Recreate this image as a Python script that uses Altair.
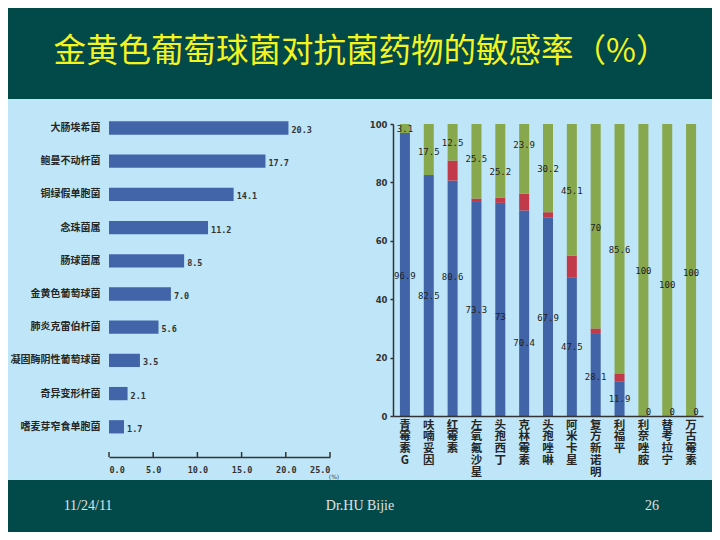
import altair as alt
import pandas as pd

# ---------------- data ----------------
title_text = "金黄色葡萄球菌对抗菌药物的敏感率（%）"
footer_date = "11/24/11"
footer_author = "Dr.HU Bijie"
footer_page = "26"

organisms = ["大肠埃希菌", "鲍曼不动杆菌", "铜绿假单胞菌", "念珠菌属", "肠球菌属",
             "金黄色葡萄球菌", "肺炎克雷伯杆菌", "凝固酶阴性葡萄球菌", "奇异变形杆菌",
             "嗜麦芽窄食单胞菌"]
isolate_pct = [20.3, 17.7, 14.1, 11.2, 8.5, 7.0, 5.6, 3.5, 2.1, 1.7]
pct_ticks = [0, 5, 10, 15, 20, 25]

drugs = ["青霉素G", "呋喃妥因", "红霉素", "左氧氟沙星", "头孢西丁", "克林霉素", "头孢唑啉",
         "阿米卡星", "复方新诺明", "利福平", "利奈唑胺", "替考拉宁", "万古霉素"]
resistant = [96.9, 82.5, 80.6, 73.3, 73, 70.4, 67.9, 47.5, 28.1, 11.9, 0, 0, 0]
intermediate = [0, 0, 6.9, 1.2, 1.8, 5.7, 1.9, 7.4, 1.9, 2.5, 0, 0, 0]
susceptible = [3.1, 17.5, 12.5, 25.5, 25.2, 23.9, 30.2, 45.1, 70, 85.6, 100, 100, 100]
rate_ticks = [0, 20, 40, 60, 80, 100]
# where the value labels sit on the 0-100 scale
resistant_label_at = [48, 41.2, 47.6, 36.3, 34, 25, 33.6, 23.6, 13.4, 5.8, 0, 0, 0]
susceptible_label_at = [98.3, 90.4, 93.5, 88, 83.6, 92.8, 84.6, 77, 64.4, 56.8, 49.6, 45, 49]

classes = ["R", "I", "S"]
class_colors = ["#4163A7", "#C23A4A", "#88A84E"]

# ---------------- tables ----------------
left_df = pd.DataFrame({"org": organisms, "pct": isolate_pct})

rows = []
for d, r, i, s in zip(drugs, resistant, intermediate, susceptible):
    rows.append({"drug": d, "cls": "R", "y0": 0, "y1": r})
    rows.append({"drug": d, "cls": "I", "y0": r, "y1": r + i})
    rows.append({"drug": d, "cls": "S", "y0": r + i, "y1": r + i + s})
bars_df = pd.DataFrame(rows)

lab = []
for d, r, s, ra, sa in zip(drugs, resistant, susceptible,
                           resistant_label_at, susceptible_label_at):
    lab.append({"drug": d, "mid": ra, "txt": f"{r:g}", "zero": r == 0})
    lab.append({"drug": d, "mid": sa, "txt": f"{s:g}", "zero": s == 0})
labels_df = pd.DataFrame(lab)

one = pd.DataFrame({"k": [0]})

W, H = 704, 524
BG = "#02494A"
PANEL = "#BFE6F8"
CJK = "Noto Sans CJK SC"

# ---------------- decorations ----------------
panel = alt.Chart(one).mark_rect(color=PANEL).encode(
    x=alt.value(0), x2=alt.value(705), y=alt.value(91), y2=alt.value(472))

title = alt.Chart(one).mark_text(
    text=title_text, font=CJK, fontSize=32.5, color="#F4F41E",
    align="center", baseline="middle").encode(x=alt.value(353), y=alt.value(44))

def foot(txt, x):
    return alt.Chart(one).mark_text(
        text=txt, font="Liberation Serif", fontSize=14, color="#E2E2E2",
        align="center", baseline="middle").encode(x=alt.value(x), y=alt.value(498))

pct_unit = alt.Chart(one).mark_text(
    text="(%)", font="DejaVu Sans", fontSize=6, color="#444",
    align="center", baseline="middle").encode(x=alt.value(326), y=alt.value(469))

# ---------------- left chart ----------------
yL = alt.Y("org:N", sort=organisms,
           scale=alt.Scale(range=[103.4, 435.4], paddingInner=0.6, paddingOuter=0.3),
           axis=alt.Axis(orient="left", offset=-101, domain=False, ticks=False,
                         labelPadding=9, labelFont=CJK, labelFontSize=10,
                         labelFontWeight="bold", labelColor="#262626",
                         title=None, grid=False, zindex=1))
xL = alt.X("pct:Q",
           scale=alt.Scale(domain=[0, 25], range=[101, 322], nice=False, zero=True),
           axis=alt.Axis(orient="bottom", offset=-75, values=pct_ticks, format=".1f",
                         ticks=False, domainColor="#333", domainWidth=1.5,
                         labelFont="DejaVu Sans Mono", labelFontSize=8.5,
                         labelFontWeight="bold", labelColor="#333", labelPadding=8,
                         title=None, grid=False, zindex=1))

left_bars = alt.Chart(left_df).mark_bar(color="#4264A8").encode(x=xL, y=yL)
left_text = alt.Chart(left_df).mark_text(
    align="left", baseline="middle", dx=3, dy=2, font="DejaVu Sans Mono",
    fontSize=8.5, fontWeight="bold", color="#333").encode(
    x=xL, y=yL, text=alt.Text("pct:Q", format=".1f"))
tick_df = pd.DataFrame({"pct": pct_ticks})
left_ticks = alt.Chart(tick_df).mark_rule(color="#333", strokeWidth=1.5).encode(
    x=xL, y=alt.value(444), y2=alt.value(449))

left = alt.layer(left_bars, left_text, left_ticks)

# ---------------- right chart ----------------
xR = alt.X("drug:N", sort=drugs,
           scale=alt.Scale(range=[385, 695], paddingInner=0.58, paddingOuter=0.29),
           axis=alt.Axis(orient="bottom", offset=-116, domain=True, ticks=False,
                         domainColor="#333", domainWidth=1.5,
                         labelAngle=0, labelAlign="center", labelBaseline="top",
                         labelExpr="split(datum.label, '')", labelLineHeight=11.8,
                         labelPadding=3, labelFont=CJK, labelFontSize=11.5,
                         labelFontWeight="bold", labelColor="#262626",
                         title=None, grid=False, zindex=1))
yR = alt.Y("y1:Q",
           scale=alt.Scale(domain=[0, 100], range=[408, 116], nice=False),
           axis=alt.Axis(orient="left", offset=-385, values=rate_ticks,
                         domainColor="#333", domainWidth=1.5, tickColor="#333",
                         tickWidth=1.5, tickSize=3, labelPadding=3,
                         labelFont="DejaVu Sans", labelFontSize=8.5,
                         labelFontWeight="bold", labelColor="#333",
                         title=None, grid=False, zindex=1))

right_bars = alt.Chart(bars_df).mark_bar().encode(
    x=xR, y=yR, y2="y0:Q",
    color=alt.Color("cls:N", scale=alt.Scale(domain=classes, range=class_colors),
                    legend=None))
right_text = alt.Chart(labels_df).transform_filter("!datum.zero").mark_text(
    font="DejaVu Sans Mono", fontSize=9, color="#222",
    align="center", baseline="middle").encode(
    x=xR, y=alt.Y("mid:Q"), text="txt:N")
zero_text = alt.Chart(labels_df).transform_filter("datum.zero").mark_text(
    font="DejaVu Sans Mono", fontSize=9, color="#222", dx=5, dy=-4,
    align="center", baseline="middle").encode(
    x=xR, y=alt.Y("mid:Q"), text="txt:N")

right = alt.layer(right_bars, right_text, zero_text)

chart = alt.layer(
    panel, title, foot(footer_date, 80), foot(footer_author, 352),
    foot(footer_page, 644), pct_unit, left, right
).resolve_scale(x="independent", y="independent", color="independent"
).resolve_axis(x="independent", y="independent"
).properties(
    width=W, height=H, background=BG, padding=0,
    autosize=alt.AutoSizeParams(type="none")
).configure_view(stroke=None).configure_axis(grid=False)

chart.save("out.html", embed_options={"renderer": "svg", "actions": False})
